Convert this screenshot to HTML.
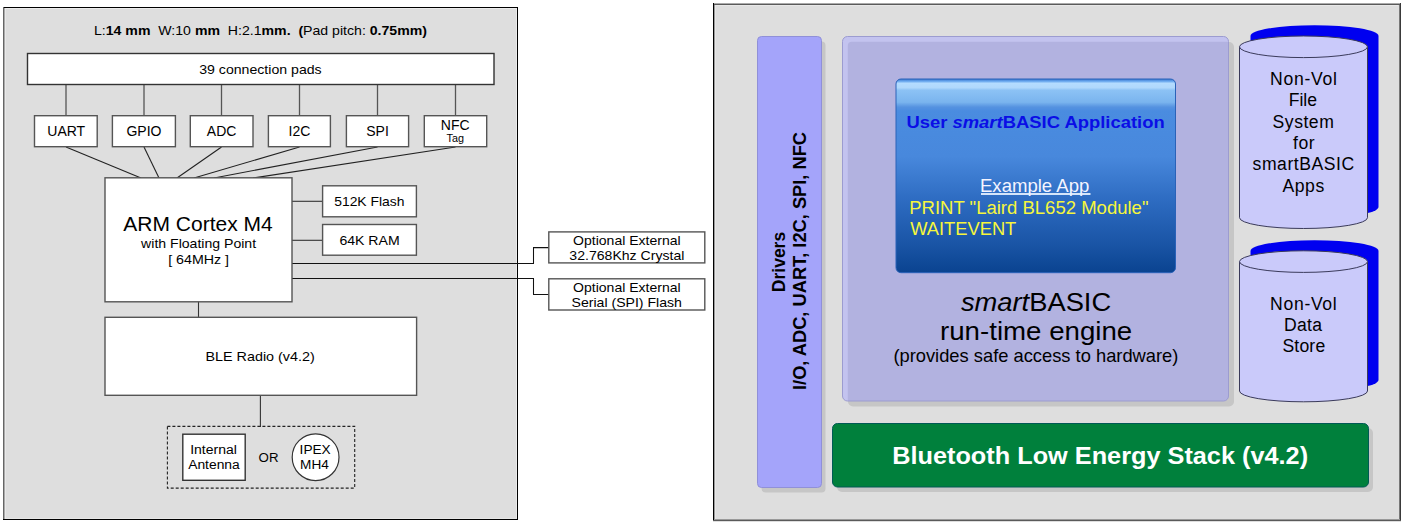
<!DOCTYPE html>
<html><head><meta charset="utf-8">
<style>
html,body{margin:0;padding:0;background:#fff;width:1404px;height:527px;overflow:hidden}
svg{display:block}
text{font-family:"Liberation Sans",sans-serif}
</style></head>
<body>
<svg width="1404" height="527" viewBox="0 0 1404 527">
<defs>
<linearGradient id="appg" x1="0" y1="0" x2="0" y2="1">
<stop offset="0" stop-color="#3a78d0"/>
<stop offset="0.012" stop-color="#6aa8ee"/>
<stop offset="0.022" stop-color="#b4dcff"/>
<stop offset="0.045" stop-color="#b0d8fc"/>
<stop offset="0.058" stop-color="#8cc2f5"/>
<stop offset="0.12" stop-color="#7ab4ee"/>
<stop offset="0.145" stop-color="#5592e0"/>
<stop offset="0.165" stop-color="#4a8ce0"/>
<stop offset="0.4" stop-color="#4888dc"/>
<stop offset="0.62" stop-color="#2e6cc2"/>
<stop offset="0.85" stop-color="#1a55a6"/>
<stop offset="1" stop-color="#0a4390"/>
</linearGradient>
<clipPath id="engclip"><rect x="842.5" y="36.5" width="386" height="364.5" rx="5"/></clipPath>
</defs>
<!-- LEFT PANEL -->
<rect x="3" y="7" width="515" height="513" fill="#dedede"/>
<g stroke-width="1" shape-rendering="crispEdges">
<line x1="5" y1="8.5" x2="517" y2="8.5" stroke="#ececec"/>
<line x1="5.5" y1="8" x2="5.5" y2="519" stroke="#e8e8e8"/>
<line x1="516.5" y1="8" x2="516.5" y2="519" stroke="#ebebeb"/>
<line x1="5" y1="518.5" x2="517" y2="518.5" stroke="#e6e6e6"/>
<line x1="3" y1="7.5" x2="518" y2="7.5" stroke="#000"/>
<line x1="3.5" y1="7" x2="3.5" y2="520" stroke="#666"/>
<line x1="4.5" y1="8" x2="4.5" y2="519" stroke="#aaa"/>
<line x1="517.5" y1="7" x2="517.5" y2="520" stroke="#000"/>
<line x1="3" y1="519.5" x2="518" y2="519.5" stroke="#000"/>
</g>
<text x="94" y="35" font-size="13.51" xml:space="preserve" textLength="333" lengthAdjust="spacingAndGlyphs">L:<tspan font-weight="bold">14 mm</tspan>  W:10 <tspan font-weight="bold">mm</tspan>  H:2.1<tspan font-weight="bold">mm.</tspan>  <tspan font-weight="bold">(</tspan>Pad pitch: <tspan font-weight="bold">0.75mm)</tspan></text>
<g stroke="#555" stroke-width="1.3" fill="none">
<line x1="66" y1="84" x2="66" y2="116"/>
<line x1="144" y1="84" x2="144" y2="116"/>
<line x1="221.5" y1="84" x2="221.5" y2="116"/>
<line x1="299.5" y1="84" x2="299.5" y2="116"/>
<line x1="377.5" y1="84" x2="377.5" y2="116"/>
<line x1="455.5" y1="84" x2="455.5" y2="116"/>
</g>
<g stroke="#222" stroke-width="1.1" fill="none">
<line x1="66" y1="147" x2="141" y2="178"/>
<line x1="144" y1="147" x2="159" y2="178"/>
<line x1="221.5" y1="147" x2="177" y2="178"/>
<line x1="299.5" y1="147" x2="194" y2="178"/>
<line x1="377.5" y1="147" x2="214" y2="178"/>
<line x1="455.5" y1="147" x2="253" y2="178"/>
</g>
<rect x="27.5" y="53.5" width="466.5" height="31" fill="#fff" stroke="#333" stroke-width="1.4"/>
<text x="199.2" y="74.4" font-size="13.51" textLength="122.5" lengthAdjust="spacingAndGlyphs">39 connection pads</text>
<g fill="#fff" stroke="#555" stroke-width="1.4">
<rect x="34.5" y="115.7" width="62.7" height="31"/>
<rect x="112.4" y="115.7" width="63" height="31"/>
<rect x="190.3" y="115.7" width="62.7" height="31"/>
<rect x="268.4" y="115.7" width="62" height="31"/>
<rect x="346.4" y="115.7" width="62.2" height="31"/>
<rect x="424.3" y="115.7" width="62.4" height="31"/>
</g>
<g font-size="14" text-anchor="middle">
<text x="66.2" y="135.8">UART</text>
<text x="144" y="135.8">GPIO</text>
<text x="221.6" y="135.8">ADC</text>
<text x="299.4" y="135.8">I2C</text>
<text x="377.5" y="135.8">SPI</text>
<text x="455.2" y="130">NFC</text>
<text x="446.6" y="142.3" font-size="10" text-anchor="start" textLength="17.4" lengthAdjust="spacingAndGlyphs">Tag</text>
</g>
<!-- ARM -->
<g stroke="#333" stroke-width="1.1" fill="none">
<line x1="292" y1="201.3" x2="323" y2="201.3"/>
<line x1="292" y1="240.3" x2="323" y2="240.3"/>
<polyline points="292,263.4 533.5,263.4 533.5,247.6 549,247.6" stroke="#111" stroke-width="1.05"/>
<polyline points="292,278.5 533.5,278.5 533.5,294.4 549,294.4" stroke="#111" stroke-width="1.05"/>
<line x1="198.5" y1="301" x2="198.5" y2="318"/>
<line x1="260.4" y1="395" x2="260.4" y2="427"/>
</g>
<g fill="#fff" stroke="#555" stroke-width="1.4">
<rect x="105" y="177.8" width="187" height="124"/>
<rect x="322.6" y="185.8" width="93.8" height="31"/>
<rect x="322.6" y="224.5" width="93.8" height="30.7"/>
<rect x="548.8" y="231.9" width="156" height="31"/>
<rect x="548.8" y="278.8" width="156" height="31.2"/>
<rect x="105" y="317.3" width="311.6" height="78"/>
</g>
<text x="123.3" y="231.4" font-size="20.27" textLength="149.4" lengthAdjust="spacingAndGlyphs">ARM Cortex M4</text>
<text x="141.1" y="247.9" font-size="13.51" textLength="115" lengthAdjust="spacingAndGlyphs">with Floating Point</text>
<text x="168.2" y="263.8" font-size="13.41" textLength="60.9" lengthAdjust="spacingAndGlyphs">[ 64MHz ]</text>
<text x="334.2" y="206.1" font-size="13.41" textLength="70.3" lengthAdjust="spacingAndGlyphs">512K Flash</text>
<text x="339.4" y="244.8" font-size="13.51" textLength="60.3" lengthAdjust="spacingAndGlyphs">64K RAM</text>
<text x="573.1" y="245" font-size="13.51" textLength="107.5" lengthAdjust="spacingAndGlyphs">Optional External</text>
<text x="569.3" y="260.1" font-size="13.51" textLength="115.1" lengthAdjust="spacingAndGlyphs">32.768Khz Crystal</text>
<text x="573.1" y="291.5" font-size="13.51" textLength="107.5" lengthAdjust="spacingAndGlyphs">Optional External</text>
<text x="571.5" y="306.8" font-size="13.51" textLength="110.4" lengthAdjust="spacingAndGlyphs">Serial (SPI) Flash</text>
<text x="205.5" y="361.1" font-size="13.51" textLength="109.2" lengthAdjust="spacingAndGlyphs">BLE Radio (v4.2)</text>
<!-- antenna -->
<rect x="167.4" y="426.4" width="187.3" height="61.7" fill="none" stroke="#222" stroke-width="1.1" stroke-dasharray="3,2"/>
<rect x="182.8" y="434.2" width="62.4" height="46.1" fill="#fff" stroke="#333" stroke-width="1.4"/>
<circle cx="315.6" cy="457.2" r="23.4" fill="#fff" stroke="#333" stroke-width="1.2"/>
<text x="190.2" y="454.2" font-size="13.32" textLength="46.6" lengthAdjust="spacingAndGlyphs">Internal</text>
<text x="188.2" y="469.1" font-size="13.32" textLength="51.6" lengthAdjust="spacingAndGlyphs">Antenna</text>
<text x="258.6" y="461.6" font-size="13.12" textLength="19.9" lengthAdjust="spacingAndGlyphs">OR</text>
<text x="299.6" y="454.2" font-size="13.12" textLength="31.1" lengthAdjust="spacingAndGlyphs">IPEX</text>
<text x="300.1" y="469.1" font-size="13.12" textLength="28.8" lengthAdjust="spacingAndGlyphs">MH4</text>

<!-- RIGHT PANEL -->
<rect x="713" y="3" width="688" height="519" fill="#dedede"/>
<g stroke-width="1" shape-rendering="crispEdges">
<line x1="715" y1="5.5" x2="1398" y2="5.5" stroke="#e8e8e8"/>
<line x1="715.5" y1="5" x2="715.5" y2="519" stroke="#e6e6e6"/>
<line x1="713" y1="3.5" x2="1401" y2="3.5" stroke="#aaa"/>
<line x1="713" y1="4.5" x2="1401" y2="4.5" stroke="#5a5a5a"/>
<line x1="714.5" y1="5" x2="714.5" y2="520" stroke="#999"/>
<line x1="713.5" y1="3" x2="713.5" y2="521" stroke="#000"/>
<line x1="1399.5" y1="5" x2="1399.5" y2="520" stroke="#777"/>
<line x1="1400.5" y1="3" x2="1400.5" y2="521" stroke="#3a3a3a"/>
<line x1="714" y1="519.5" x2="1400" y2="519.5" stroke="#999"/>
<line x1="713" y1="520.5" x2="1401" y2="520.5" stroke="#5a5a5a"/>
</g>
<!-- drivers -->
<rect x="761.5" y="41.5" width="64" height="451" rx="4" fill="#c6c6c6"/>
<rect x="757.5" y="36.5" width="64" height="451" rx="4" fill="#a4a4fa" stroke="#9090d8" stroke-width="1"/>
<g transform="translate(784.5,262) rotate(-90)"><text x="0" y="0" font-size="17.5" font-weight="bold" text-anchor="middle">Drivers</text></g>
<g transform="translate(806,261) rotate(-90)"><text x="0" y="0" font-size="17.56" font-weight="bold" text-anchor="middle" textLength="258" lengthAdjust="spacingAndGlyphs">I/O, ADC, UART, I2C, SPI, NFC</text></g>
<!-- engine -->
<rect x="848" y="42" width="386" height="364.5" rx="5" fill="#c6c6c6"/>
<g clip-path="url(#engclip)">
<rect x="842" y="36" width="388" height="366" fill="#c3c3ef"/>
<rect x="847.8" y="41.8" width="400" height="400" rx="4" fill="#b2b2e0"/>
</g>
<rect x="842.5" y="36.5" width="386" height="364.5" rx="5" fill="none" stroke="#9c9cd0" stroke-width="1"/>
<rect x="896" y="79" width="279.5" height="193.7" rx="5" fill="url(#appg)" stroke="#2a62b8" stroke-width="1"/>
<text x="906.4" y="127.8" font-size="17.1" font-weight="bold" fill="#0a0ee6" textLength="258.3" lengthAdjust="spacingAndGlyphs">User <tspan font-style="italic">smart</tspan>BASIC Application</text>
<text x="980.0" y="192" font-size="17.66" fill="#f4f4ff" textLength="109.3" lengthAdjust="spacingAndGlyphs">Example App</text>
<rect x="981" y="193.1" width="109.5" height="1.8" fill="#e8f2ff"/>
<text x="909.2" y="213.6" font-size="17.66" fill="#f6f63c" textLength="239.3" lengthAdjust="spacingAndGlyphs">PRINT "Laird BL652 Module"</text>
<text x="910.2" y="234.8" font-size="17.66" fill="#f6f63c" textLength="106.1" lengthAdjust="spacingAndGlyphs">WAITEVENT</text>
<text x="960.9" y="310.5" font-size="26.05" textLength="150.3" lengthAdjust="spacingAndGlyphs"><tspan font-style="italic">smart</tspan>BASIC</text>
<text x="940.0" y="340.2" font-size="26.05" textLength="192.2" lengthAdjust="spacingAndGlyphs">run-time engine</text>
<text x="893.4" y="362" font-size="17.56" textLength="285.0" lengthAdjust="spacingAndGlyphs">(provides safe access to hardware)</text>
<!-- cylinders -->
<path d="M1250.5,36 A64,10.8 0 0 1 1378.5,36 L1378.5,207 A64,10.8 0 0 1 1250.5,207 Z" fill="#0000f0"/>
<path d="M1239.5,46.8 L1239.5,217.7 A64,10.8 0 0 0 1367.5,217.7 L1367.5,46.8" fill="#cacafa" stroke="#3a3a5a" stroke-width="1"/>
<ellipse cx="1303.5" cy="46.8" rx="64" ry="10.8" fill="#cacafa" stroke="#3a3a5a" stroke-width="1"/>
<path d="M1250.5,251 A64,10.8 0 0 1 1378.5,251 L1378.5,380 A64,10.8 0 0 1 1250.5,380 Z" fill="#0000f0"/>
<path d="M1239.5,261.6 L1239.5,391 A64,10.8 0 0 0 1367.5,391 L1367.5,261.6" fill="#cacafa" stroke="#3a3a5a" stroke-width="1"/>
<ellipse cx="1303.5" cy="261.6" rx="64" ry="10.8" fill="#cacafa" stroke="#3a3a5a" stroke-width="1"/>
<g font-size="17.6" lengthAdjust="spacingAndGlyphs">
<text x="1270" y="85" textLength="66.8">Non-Vol</text>
<text x="1288.8" y="106.3" textLength="28.2">File</text>
<text x="1272.6" y="127.6" textLength="61.2">System</text>
<text x="1293.0" y="148.9" textLength="21.6">for</text>
<text x="1252.6" y="170.3" textLength="101.6">smartBASIC</text>
<text x="1282.6" y="191.6" textLength="41.6">Apps</text>
<text x="1270.1" y="310.2" textLength="66.6">Non-Vol</text>
<text x="1284" y="331.2" textLength="38">Data</text>
<text x="1282.4" y="352.4" textLength="42.8">Store</text>
</g>
<!-- green -->
<rect x="837" y="428" width="536" height="64" rx="5" fill="#c6c6c6"/>
<rect x="832.5" y="423.5" width="536" height="63.5" rx="5" fill="#00803c" stroke="#005a55" stroke-width="1"/>
<text x="892.2" y="463.9" font-size="24.12" font-weight="bold" fill="#fff" textLength="415.9" lengthAdjust="spacingAndGlyphs">Bluetooth Low Energy Stack (v4.2)</text>
</svg>
</body></html>
